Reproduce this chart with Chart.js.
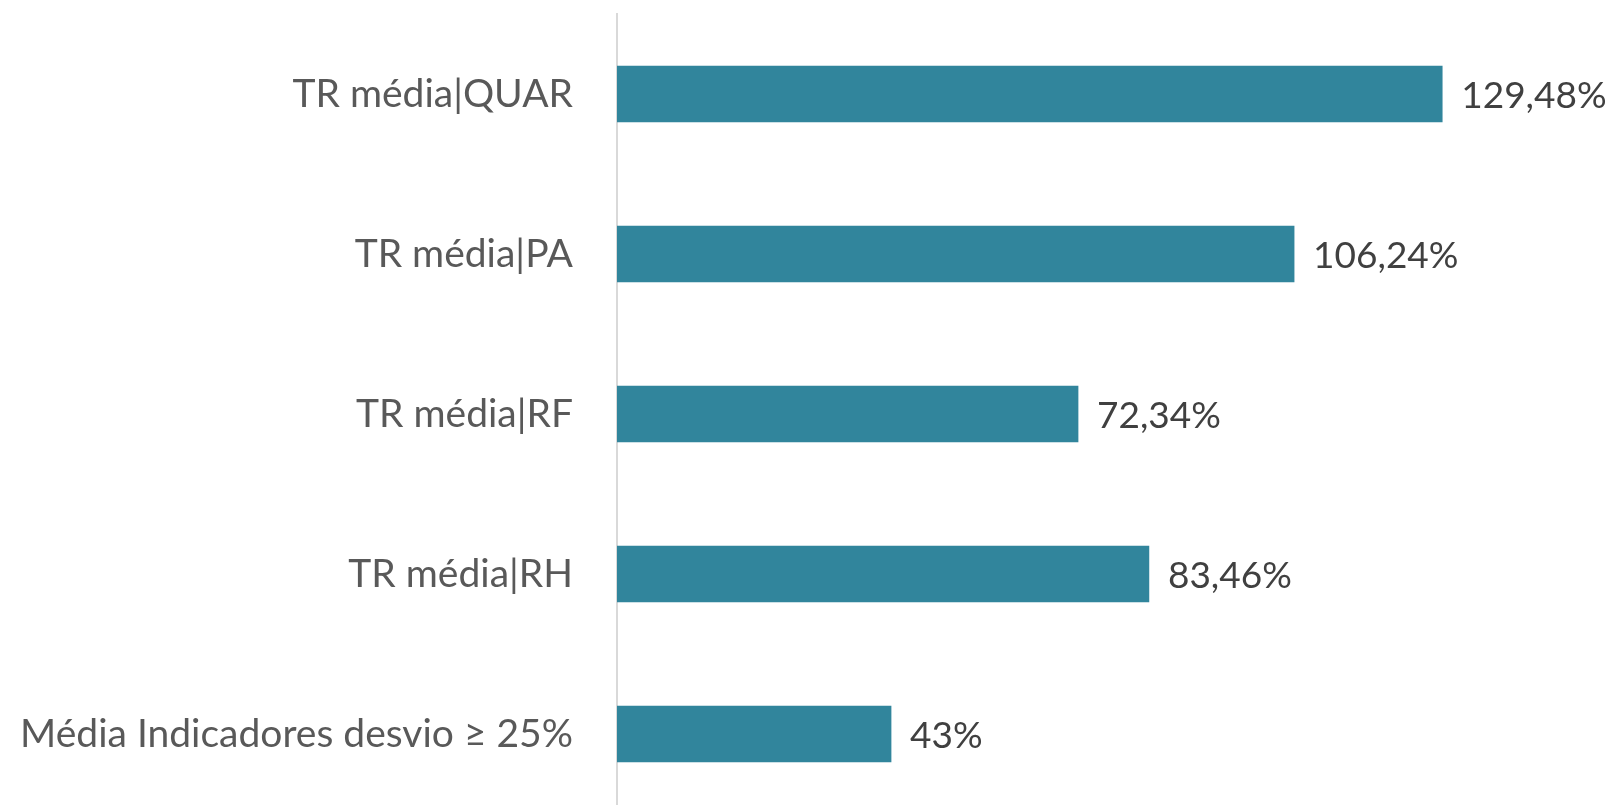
<!DOCTYPE html>
<html>
<head>
<meta charset="utf-8">
<script src="https://cdn.jsdelivr.net/npm/chart.js@4"></script>
<style>
  html, body { margin: 0; padding: 0; background: #fff; overflow: hidden; }
  #wrap { width: 1611px; height: 815px; }
</style>
</head>
<body>
<div id="wrap"><canvas id="chart" width="1611" height="815"></canvas></div>
<script>
// dados do gráfico
const categorias = ['TR média|QUAR', 'TR média|PA', 'TR média|RF', 'TR média|RH', 'Média Indicadores desvio ≥ 25%'];
const valores = [129.48, 106.24, 72.34, 83.46, 43];

const FONTE = 'Lato, "Open Sans", sans-serif';

function formatar(v) {
    return (Number.isInteger(v) ? String(v) : v.toFixed(2).replace('.', ',')) + '%';
}

// rótulos de valor à direita das barras
const rotulosValor = {
    id: 'rotulosValor',
    afterDatasetsDraw(chart) {
        const ctx = chart.ctx;
        const meta = chart.getDatasetMeta(0);
        ctx.save();
        ctx.font = '37px ' + FONTE;
        ctx.fillStyle = '#404040';
        ctx.textAlign = 'left';
        ctx.textBaseline = 'middle';
        meta.data.forEach((bar, i) => {
            ctx.fillText(formatar(valores[i]), bar.x + 19, bar.y + 2);
        });
        ctx.restore();
    }
};

const ctx = document.getElementById('chart').getContext('2d');
new Chart(ctx, {
    type: 'bar',
    data: {
        labels: categorias,
        datasets: [{
            data: valores,
            backgroundColor: '#31859C',
            barThickness: 56
        }]
    },
    options: {
        indexAxis: 'y',
        responsive: false,
        animation: false,
        layout: { padding: { top: 14, right: 38, bottom: 1, left: 0 } },
        plugins: {
            legend: { display: false },
            tooltip: { enabled: false }
        },
        scales: {
            x: {
                display: false,
                min: 0,
                max: 150
            },
            y: {
                afterFit: s => {
                    s.width = 617;
                    s.paddingTop = 0;
                    s.paddingBottom = 0;
                },
                grid: { display: false, drawTicks: false },
                border: { display: true, color: '#d9d9d9', width: 2 },
                ticks: {
                    padding: 44,
                    color: '#595959',
                    font: { family: FONTE, size: 39 }
                }
            }
        }
    },
    plugins: [rotulosValor]
});
</script>
</body>
</html>
